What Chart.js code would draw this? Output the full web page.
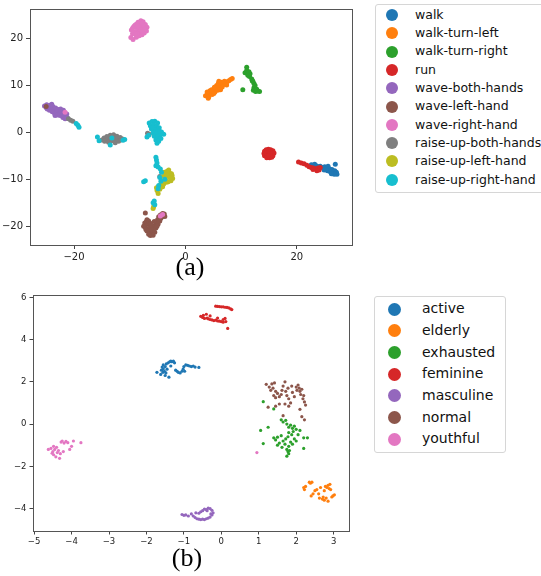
<!DOCTYPE html>
<html>
<head>
<meta charset="utf-8">
<script src="https://cdn.jsdelivr.net/npm/chart.js@4.4.0/dist/chart.umd.min.js"></script>
<style>
  body { margin: 0; width: 541px; height: 576px; overflow: hidden; background: #fff; position: relative; font-family: "DejaVu Sans", sans-serif; }
  canvas { position: absolute; left: 0; }
  .legend { position: absolute; border: 1px solid #d6d6d6; border-radius: 3px; background: #fff; box-sizing: border-box; }
  .legend .dot { position: absolute; border-radius: 50%; }
  .legend .txt { position: absolute; white-space: nowrap; }
  .caption { position: absolute; font-family: "Liberation Serif", "Times New Roman", serif; font-size: 26px; line-height: 26px; text-align: center; color: #000; }
</style>
</head>
<body>
<canvas id="chartA" width="360" height="262" style="top:0"></canvas>
<canvas id="chartB" width="360" height="262" style="top:285px"></canvas>
<div class="legend" id="legendA" style="left:375px; top:4px; width:180px; height:189px;"></div>
<div class="legend" id="legendB" style="left:374px; top:296px; width:132px; height:157px;"></div>
<div class="caption" style="left:140px; top:254px; width:100px;">(a)</div>
<div class="caption" style="left:137px; top:545px; width:100px;">(b)</div>
<script>
// --- Colours (matplotlib tab10) ---
const tab10 = ['#1f77b4', '#ff7f0e', '#2ca02c', '#d62728', '#9467bd', '#8c564b', '#e377c2', '#7f7f7f', '#bcbd22', '#17becf'];

// --- Chart (a): action classes ---
const actionLabels = ['walk', 'walk-turn-left', 'walk-turn-right', 'run', 'wave-both-hands', 'wave-left-hand',
    'wave-right-hand', 'raise-up-both-hands', 'raise-up-left-hand', 'raise-up-right-hand'];

const walkPts = [[22.3,-7.2],[22.6,-6.9],[22.9,-7.0],[23.2,-6.8],[23.5,-7.1],[23.0,-7.4],[23.8,-7.3],[24.2,-7.2],
    [24.6,-7.5],[25.0,-7.3],[25.3,-7.6],[25.6,-7.2],[25.9,-7.8],[25.5,-8.2],[26.0,-8.4],[26.3,-7.9],[26.5,-8.6],
    [26.8,-8.2],[27.1,-8.5],[27.2,-8.9],[26.7,-8.9],[26.9,-6.8],[24.9,-8.0],[22.8,-7.6],[25.2,-7.9],[26.2,-8.8]];
const walkTurnLeftPts = [[3.6,7.8],[4.0,8.2],[4.2,7.6],[4.5,8.5],[4.8,8.1],[5.0,8.9],[5.3,8.6],[5.5,9.3],[5.8,9.0],
    [6.0,9.8],[6.2,9.4],[6.4,10.3],[6.6,9.7],[6.9,10.2],[7.2,10.5],[7.5,10.8],[7.8,11.0],[8.1,11.3],[8.4,11.5],
    [5.6,10.0],[6.5,10.7],[4.4,8.9],[3.9,8.6],[4.7,9.1],[5.2,9.6],[5.9,10.4],[6.0,10.9],[7.0,10.9],[6.3,9.1],
    [5.1,8.3],[4.1,7.3],[7.4,10.1]];
const walkTurnRightPts = [[11.0,13.9],[11.0,13.2],[10.7,12.7],[11.2,12.6],[11.6,12.5],[11.5,11.9],[11.9,11.4],
    [12.1,10.9],[12.3,10.4],[12.5,10.0],[12.3,9.5],[12.2,9.0],[12.6,8.7],[13.0,8.8],[13.3,8.7],[12.8,9.2],
    [10.3,9.1],[11.4,12.9],[11.2,12.2],[12.0,11.0]];
const runPts = [[14.2,-4.0],[14.5,-3.7],[14.9,-3.6],[15.3,-3.7],[15.7,-3.9],[14.1,-4.5],[14.6,-4.3],[15.0,-4.2],
    [15.5,-4.4],[15.9,-4.4],[14.2,-5.0],[14.7,-4.9],[15.2,-4.8],[15.7,-5.0],[14.6,-5.4],[15.1,-5.4],[15.5,-5.3],
    [15.2,-4.5],[14.9,-5.0],
    [20.3,-6.3],[20.8,-6.5],[21.3,-6.7],[21.8,-7.0],[22.2,-7.3],[22.6,-7.5],[23.0,-7.6],[23.4,-7.8],[23.8,-7.6],
    [24.0,-8.0],[23.6,-8.2],[22.9,-7.9],[24.2,-7.5]];
const waveBothPts = [[-25.3,5.6],[-24.9,5.9],[-24.6,5.4],[-24.3,5.8],[-24.1,5.1],[-23.8,5.5],[-23.6,4.8],[-23.3,5.2],
    [-23.1,4.4],[-22.8,4.9],[-22.6,4.1],[-22.3,4.5],[-22.1,3.8],[-21.8,4.2],[-21.5,3.5],[-21.3,3.9],[-21.2,3.1],
    [-23.5,4.1],[-22.5,3.6],[-24.8,5.0],[-24.4,4.7],[-23.9,4.4],[-23.0,3.7],[-22.0,3.2],[-21.9,4.7],[-22.4,5.0],
    [-24.0,6.0],[-25.0,5.3],[-21.6,2.9],[-23.4,3.6]];
const waveLeftPts = [[-7.3,-19.3],[-7.0,-19.0],[-6.7,-19.6],[-7.2,-20.2],[-6.8,-20.6],[-6.4,-20.2],[-6.5,-21.2],
    [-6.1,-21.6],[-6.3,-22.0],[-5.9,-21.0],[-5.6,-20.5],[-6.0,-20.0],[-5.4,-19.8],[-5.2,-19.2],[-5.0,-18.6],
    [-4.8,-18.0],[-4.5,-17.6],[-4.1,-17.3],[-3.8,-17.4],[-4.4,-18.3],[-5.6,-19.0],[-6.9,-18.6],[-7.2,-17.2],
    [-7.5,-20.0],[-25.0,5.5],[-6.6,-18.9],[-6.2,-19.4],[-6.9,-21.0],[-6.0,-20.8],[-5.5,-21.3],[-5.3,-20.4],
    [-4.9,-19.5],[-4.6,-18.9],[-4.2,-18.0],[-3.7,-17.9],[-5.8,-21.9],[-6.6,-21.7],[-7.1,-20.7],[-5.1,-20.0]];
const waveRightPts = [[-9.8,20.2],[-9.5,21.0],[-9.7,21.8],[-9.3,22.5],[-8.9,23.0],[-8.5,23.5],[-8.0,23.8],[-7.6,23.6],
    [-7.2,23.0],[-6.9,22.4],[-7.0,21.6],[-7.4,21.2],[-7.8,20.8],[-8.3,20.6],[-8.8,20.3],[-9.4,19.8],[-8.9,21.5],
    [-8.4,22.2],[-7.9,22.6],[-8.2,21.5],[-9.1,22.8],[-7.5,22.2],[-8.6,21.0],[-8.0,21.9],[-7.6,22.9],[-9.3,21.4],
    [-8.8,22.4],[-8.2,23.0],[-7.3,21.9],[-8.6,23.2],[-9.0,20.9],[-7.8,23.2],[-8.5,22.7],[-9.5,22.2],[-7.7,21.5],
    [-21.6,4.3],[-4.5,-17.8],[-4.1,-17.5]];
const raiseBothPts = [[-15.0,-1.6],[-14.6,-1.2],[-14.5,-1.9],[-14.1,-0.9],[-14.0,-1.5],[-13.8,-2.1],[-13.5,-0.6],
    [-13.4,-1.2],[-13.2,-1.8],[-12.9,-0.5],[-12.8,-1.0],[-12.7,-1.5],[-12.6,-2.2],[-12.3,-0.8],[-12.2,-1.3],
    [-12.0,-1.9],[-11.7,-1.1],[-11.6,-1.6],[-11.3,-1.4],[-21.0,2.9],[-20.6,2.6],[-20.2,2.4],[-6.8,-0.2],
    [-6.5,-0.4],[-4.6,-9.4]];
const raiseLeftPts = [[-3.8,-8.5],[-3.3,-8.3],[-2.8,-8.7],[-2.4,-9.2],[-2.3,-9.8],[-2.6,-10.3],[-3.1,-10.5],
    [-3.6,-10.0],[-4.0,-9.4],[-3.2,-9.3],[-2.8,-9.6],[-3.5,-9.0],[-4.2,-10.4],[-3.9,-11.0],[-4.4,-11.0],
    [-4.8,-11.5],[-4.6,-12.1],[-5.1,-12.4],[-4.9,-13.0],[-5.2,-11.8],[-4.1,-11.6],[-5.8,-16.2],[-5.7,-15.8],
    [-3.0,-8.0],[-2.5,-8.8],[-3.4,-10.6],[-3.8,-10.3],[-4.5,-11.7]];
const raiseRightPts = [[-6.5,2.0],[-6.0,2.3],[-5.5,2.4],[-5.0,2.0],[-6.3,1.4],[-5.7,1.5],[-5.2,1.3],[-4.7,1.0],
    [-6.1,0.7],[-5.5,0.6],[-4.9,0.4],[-4.3,0.1],[-3.9,-0.4],[-5.8,-0.1],[-5.2,-0.2],[-4.6,-0.6],[-5.6,-0.8],
    [-5.0,-1.0],[-4.4,-1.3],[-5.3,-1.6],[-4.8,-1.9],[-5.1,-2.3],[-6.9,-1.0],[-6.6,-0.6],[-5.9,1.0],[-4.6,0.2],
    [-5.3,-5.3],[-5.2,-5.9],[-5.1,-6.5],[-5.3,-7.1],[-4.9,-7.4],[-4.5,-7.8],[-4.3,-8.5],[-4.6,-9.6],[-4.4,-10.4],
    [-3.7,-10.0],[-4.8,-11.3],[-4.9,-12.0],[-7.2,-10.3],[-7.5,-10.5],[-5.8,-15.0],[-5.6,-14.6],[-5.5,-15.4],
    [-15.8,-1.0],[-15.5,-1.8],[-13.5,-2.7],[-11.2,-1.7],[-10.9,-1.5],[-13.2,-1.2],
    [-19.6,1.9],[-19.3,1.5],[-19.1,1.1]];
const actionPoints = [walkPts, walkTurnLeftPts, walkTurnRightPts, runPts, waveBothPts, waveLeftPts,
    waveRightPts, raiseBothPts, raiseLeftPts, raiseRightPts];
const actionXTicks = [-20, 0, 20];
const actionYTicks = [-20, -10, 0, 10, 20];

// --- Chart (b): style classes ---
const styleLabels = ['active', 'elderly', 'exhausted', 'feminine', 'masculine', 'normal', 'youthful'];

const activePts = [[-1.72,2.45],[-1.62,2.35],[-1.6,2.55],[-1.58,2.7],[-1.55,2.62],[-1.55,2.8],[-1.52,2.5],[-1.5,2.72],
    [-1.48,2.42],[-1.47,2.85],[-1.45,2.6],[-1.42,2.9],[-1.38,2.95],[-1.35,2.75],[-1.35,2.98],[-1.32,2.95],
    [-1.28,2.98],[-1.25,2.9],[-1.4,2.22],[-1.22,2.55],[-1.18,2.5],[-1.15,2.45],[-1.1,2.42],[-1.05,2.5],
    [-1.02,2.6],[-1.0,2.72],[-0.98,2.5],[-0.95,2.8],[-0.9,2.78],[-0.85,2.75],[-0.8,2.72],[-0.75,2.75],
    [-0.7,2.7],[-0.6,2.68],[-1.5,2.3],[-1.56,2.45]];
const elderlyPts = [[2.2,-3.0],[2.22,-3.1],[2.25,-2.95],[2.35,-2.75],[2.38,-2.8],[2.42,-2.75],[2.4,-3.4],[2.45,-3.3],
    [2.5,-3.15],[2.55,-3.1],[2.6,-3.3],[2.62,-3.5],[2.7,-3.55],[2.72,-3.45],[2.75,-3.6],[2.8,-3.5],[2.82,-3.0],
    [2.85,-2.9],[2.88,-3.05],[2.9,-2.85],[2.92,-3.1],[2.95,-3.45],[2.98,-3.4],[3.02,-3.35],[2.65,-3.0],
    [2.78,-2.95],[2.75,-3.15],[2.85,-3.65]];
const exhaustedPts = [[1.12,1.06],[1.4,0.72],[1.6,0.2],[1.65,0.1],[1.72,0.18],[1.75,0.0],[1.8,-0.15],[1.85,-0.05],
    [1.9,-0.2],[1.95,-0.1],[2.0,-0.25],[1.92,-0.35],[1.88,-0.5],[1.8,-0.4],[2.05,-0.5],[2.1,-0.3],[2.2,-0.65],
    [2.3,-0.65],[1.05,-0.3],[1.25,-0.15],[1.12,-0.92],[1.4,-0.65],[1.45,-0.75],[1.5,-0.62],[1.55,-0.9],
    [1.6,-0.55],[1.65,-0.8],[1.7,-0.95],[1.72,-0.7],[1.78,-0.6],[1.8,-1.05],[1.85,-0.85],[1.9,-0.95],
    [1.95,-0.7],[2.0,-0.8],[1.75,-1.2],[1.78,-1.3],[1.8,-1.4],[1.75,-1.52],[1.82,-1.25],[2.2,-1.15],
    [1.5,-1.0],[1.62,-1.1]];
const femininePts = [[-0.15,5.58],[-0.1,5.57],[-0.05,5.56],[0.0,5.55],[0.05,5.55],[0.1,5.53],[0.15,5.52],[0.2,5.5],
    [0.25,5.45],[0.28,5.42],[-0.55,5.1],[-0.5,5.05],[-0.48,5.15],[-0.45,5.0],[-0.4,5.2],[-0.38,5.02],
    [-0.35,4.98],[-0.3,4.95],[-0.3,5.12],[-0.25,4.93],[-0.2,4.9],[-0.15,4.92],[-0.1,4.88],[-0.05,4.87],
    [0.0,4.85],[0.05,4.95],[0.05,4.82],[-0.1,5.02],[0.1,5.0],[0.12,4.85],[0.17,4.53]];
const masculinePts = [[-1.05,-4.28],[-1.0,-4.32],[-0.95,-4.3],[-0.88,-4.35],[-0.8,-4.25],[-0.75,-4.35],[-0.7,-4.42],
    [-0.65,-4.48],[-0.6,-4.5],[-0.55,-4.52],[-0.5,-4.5],[-0.45,-4.52],[-0.4,-4.48],[-0.35,-4.45],[-0.3,-4.4],
    [-0.25,-4.3],[-0.22,-4.2],[-0.25,-4.08],[-0.3,-4.0],[-0.35,-3.98],[-0.4,-4.05],[-0.45,-4.02],[-0.5,-4.1],
    [-0.55,-4.15],[-0.6,-4.22],[-0.68,-4.2],[-0.28,-4.25],[-0.38,-4.1]];
const normalPts = [[1.2,1.88],[1.28,1.75],[1.32,1.6],[1.35,1.9],[1.38,1.7],[1.42,1.95],[1.45,1.55],[1.4,1.35],
    [1.45,1.25],[1.5,1.45],[1.55,1.3],[1.6,1.4],[1.62,1.6],[1.65,1.8],[1.7,2.0],[1.72,1.55],[1.75,1.35],
    [1.78,1.7],[1.8,1.2],[1.85,1.0],[1.88,1.8],[1.9,1.5],[1.95,1.3],[2.0,1.75],[2.02,1.6],[2.05,1.85],
    [2.08,1.7],[2.1,1.55],[2.12,1.4],[2.15,1.65],[2.18,1.2],[2.2,1.35],[2.22,1.05],[2.25,0.9],[2.1,0.7],
    [2.15,0.35],[2.22,0.2],[1.7,0.95],[1.8,0.85],[1.55,0.95],[1.45,0.85],[1.65,0.4],[1.25,0.8]];
const youthfulPts = [[-4.62,-1.2],[-4.55,-1.15],[-4.5,-1.3],[-4.48,-1.45],[-4.45,-1.2],[-4.42,-1.55],[-4.4,-1.1],
    [-4.38,-1.35],[-4.35,-1.25],[-4.32,-1.62],[-4.3,-1.4],[-4.28,-0.85],[-4.25,-0.8],[-4.22,-1.3],[-4.2,-0.9],
    [-4.15,-0.82],[-4.1,-0.88],[-4.05,-1.2],[-4.0,-1.05],[-3.95,-0.8],[-3.75,-0.88],[-4.48,-1.05],[-4.52,-1.38],
    [0.95,-1.35]];
const stylePoints = [activePts, elderlyPts, exhaustedPts, femininePts, masculinePts, normalPts, youthfulPts];
const styleXTicks = [-5, -4, -3, -2, -1, 0, 1, 2, 3];
const styleYTicks = [-4, -2, 0, 2, 4, 6];


// --- Helpers ---
function fmtTick(v) {
    return v < 0 ? '\u2212' + Math.abs(v) : String(v);
}

// draws the full box round the plot area, like matplotlib spines
const frameBox = {
    id: 'frameBox',
    afterDraw(chart) {
        const a = chart.chartArea;
        const ctx = chart.ctx;
        ctx.save();
        ctx.strokeStyle = '#555';
        ctx.lineWidth = 1;
        ctx.strokeRect(Math.round(a.left) + 0.5, Math.round(a.top) + 0.5,
            Math.round(a.right - a.left), Math.round(a.bottom - a.top));
        ctx.restore();
    }
};

function makeScatter(canvasId, labels, points, opts) {
    const datasets = labels.map((lab, i) => ({
        label: lab,
        data: points[i].map(p => ({ x: p[0], y: p[1] })),
        backgroundColor: tab10[i],
        borderWidth: 0,
        pointRadius: opts.radius,
        pointHoverRadius: opts.radius,
        order: labels.length - i // later classes on top, as in matplotlib
    }));
    const tickFont = { family: 'DejaVu Sans', size: opts.fontSize };
    return new Chart(document.getElementById(canvasId), {
        type: 'scatter',
        data: { datasets: datasets },
        options: {
            responsive: false,
            animation: false,
            layout: { padding: opts.padding },
            plugins: { legend: { display: false }, tooltip: { enabled: false } },
            scales: {
                x: {
                    min: opts.xMin, max: opts.xMax,
                    afterBuildTicks: s => { s.ticks = opts.xTicks.map(v => ({ value: v })); },
                    afterFit: s => { s.height = opts.xAxisHeight; },
                    grid: { drawOnChartArea: false, drawTicks: true, tickLength: opts.tickLength, color: '#444' },
                    border: { display: false },
                    ticks: { font: tickFont, color: '#222', padding: opts.xPad, maxRotation: 0, callback: fmtTick }
                },
                y: {
                    min: opts.yMin, max: opts.yMax,
                    afterBuildTicks: s => { s.ticks = opts.yTicks.map(v => ({ value: v })); },
                    afterFit: s => { s.width = opts.yAxisWidth; },
                    grid: { drawOnChartArea: false, drawTicks: true, tickLength: opts.tickLength, color: '#444' },
                    border: { display: false },
                    ticks: { font: tickFont, color: '#222', padding: opts.yPad, callback: fmtTick }
                }
            }
        },
        plugins: [frameBox]
    });
}

function buildLegend(elId, labels, cfg) {
    const box = document.getElementById(elId);
    labels.forEach((lab, i) => {
        const cy = cfg.firstY + i * cfg.rowH;
        const dot = document.createElement('div');
        dot.className = 'dot';
        dot.style.width = cfg.dot + 'px';
        dot.style.height = cfg.dot + 'px';
        dot.style.left = (cfg.dotX - cfg.dot / 2) + 'px';
        dot.style.top = (cy - cfg.dot / 2) + 'px';
        dot.style.background = tab10[i];
        box.appendChild(dot);
        const txt = document.createElement('div');
        txt.className = 'txt';
        txt.textContent = lab;
        txt.style.left = cfg.textX + 'px';
        txt.style.fontSize = cfg.fontSize + 'px';
        txt.style.lineHeight = cfg.rowH + 'px';
        txt.style.top = (cy - cfg.rowH / 2) + 'px';
        txt.style.color = '#111';
        box.appendChild(txt);
    });
}

// --- Build charts ---
makeScatter('chartA', actionLabels, actionPoints, {
    radius: 2.5, fontSize: 10, tickLength: 4, xPad: 2, yPad: 3,
    padding: { top: 4, right: 8, left: 0, bottom: 0 },
    xAxisHeight: 17, yAxisWidth: 30,
    xMin: -27.9, xMax: 29.9, yMin: -24.0, yMax: 26.3,
    xTicks: actionXTicks, yTicks: actionYTicks
});

makeScatter('chartB', styleLabels, stylePoints, {
    radius: 1.6, fontSize: 8.5, tickLength: 3.5, xPad: 2, yPad: 3,
    padding: { top: 10, right: 11, left: 0, bottom: 0 },
    xAxisHeight: 16, yAxisWidth: 33,
    xMin: -5.03, xMax: 3.41, yMin: -5.06, yMax: 6.11,
    xTicks: styleXTicks, yTicks: styleYTicks
});

buildLegend('legendA', actionLabels, { firstY: 10, rowH: 18.3, dot: 12, dotX: 16, textX: 39, fontSize: 12.5 });
buildLegend('legendB', styleLabels, { firstY: 12, rowH: 21.7, dot: 13, dotX: 19, textX: 47, fontSize: 14 });
</script>
</body>
</html>
